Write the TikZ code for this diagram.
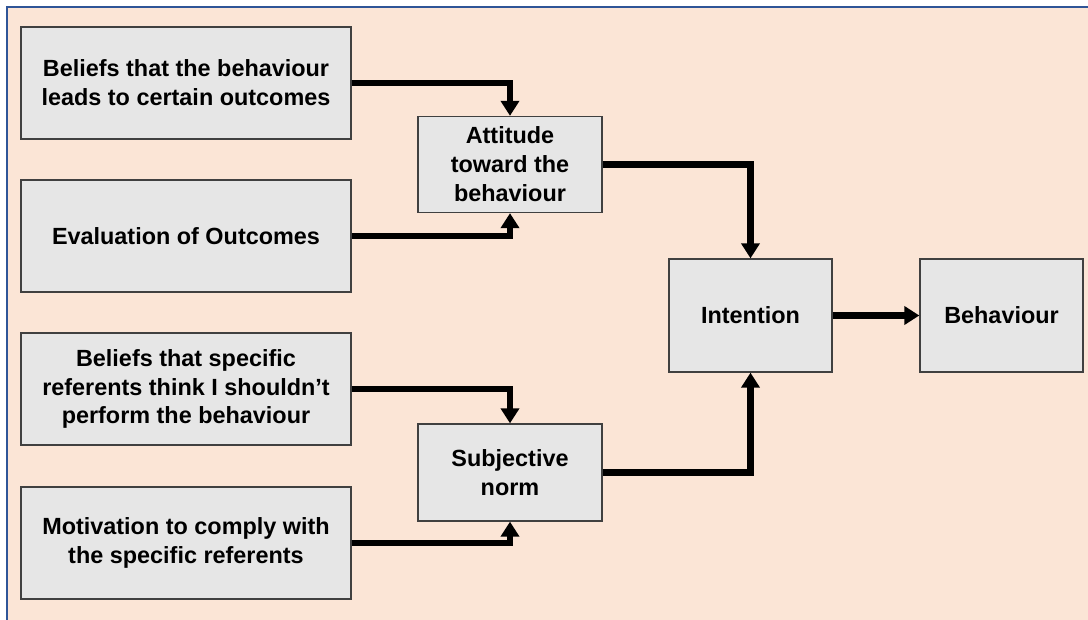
\documentclass[tikz,border=0pt]{standalone}
\usepackage{fontspec}
\setmainfont{Liberation Sans}
\usetikzlibrary{arrows.meta}
\definecolor{peach}{HTML}{FBE5D6}
\definecolor{boxfill}{HTML}{E6E6E6}
\definecolor{boxline}{HTML}{404040}
\definecolor{frameblue}{HTML}{2F5597}
\tikzset{
  box/.style={draw=boxline, fill=boxfill, line width=1.3bp, inner sep=0pt, align=center,
    font=\fontsize{23.5}{29}\selectfont\bfseries},
  conn/.style={line width=6.5bp, line join=miter, -{Triangle[length=15bp,width=18bp]}}
}
\begin{document}
\begin{tikzpicture}[x=1bp,y=-1bp]
\useasboundingbox (0,0) rectangle (1088,620);
\fill[white] (0,0) rectangle (1088,620);
\fill[peach] (8,8) rectangle (1088,620);
\draw[frameblue, line width=2bp] (7,620) -- (7,7) -- (1088,7);

\node[box, minimum width=330bp, minimum height=112bp] (b1) at (186,83) {Beliefs that the behaviour\\leads to certain outcomes};
\node[box, minimum width=330bp, minimum height=112bp] (b2) at (186,236) {Evaluation of Outcomes};
\node[box, minimum width=330bp, minimum height=112bp] (b3) at (186,389) {Beliefs that specific\\referents think I shouldn’t\\perform the behaviour};
\node[box, minimum width=330bp, minimum height=112bp] (b4) at (186,543) {Motivation to comply with\\the specific referents};
\node[box, minimum width=184bp, minimum height=96bp] (att) at (510,164.5) {Attitude\\toward the\\behaviour};
\node[box, minimum width=184bp, minimum height=97bp] (subj) at (510,472.5) {Subjective\\norm};
\node[box, minimum width=163bp, minimum height=113bp] (int) at (750.5,315.5) {Intention};
\node[box, minimum width=163bp, minimum height=113bp] (beh) at (1001.5,315.5) {Behaviour};

\draw[conn] (b1.east) -| (att.north);
\draw[conn] (b2.east) -| (att.south);
\draw[conn] (b3.east) -| (subj.north);
\draw[conn] (b4.east) -| (subj.south);
\draw[conn] (att.east) -| (int.north);
\draw[conn] (subj.east) -| (int.south);
\draw[conn] (int.east) -- (beh.west);
\end{tikzpicture}
\end{document}
